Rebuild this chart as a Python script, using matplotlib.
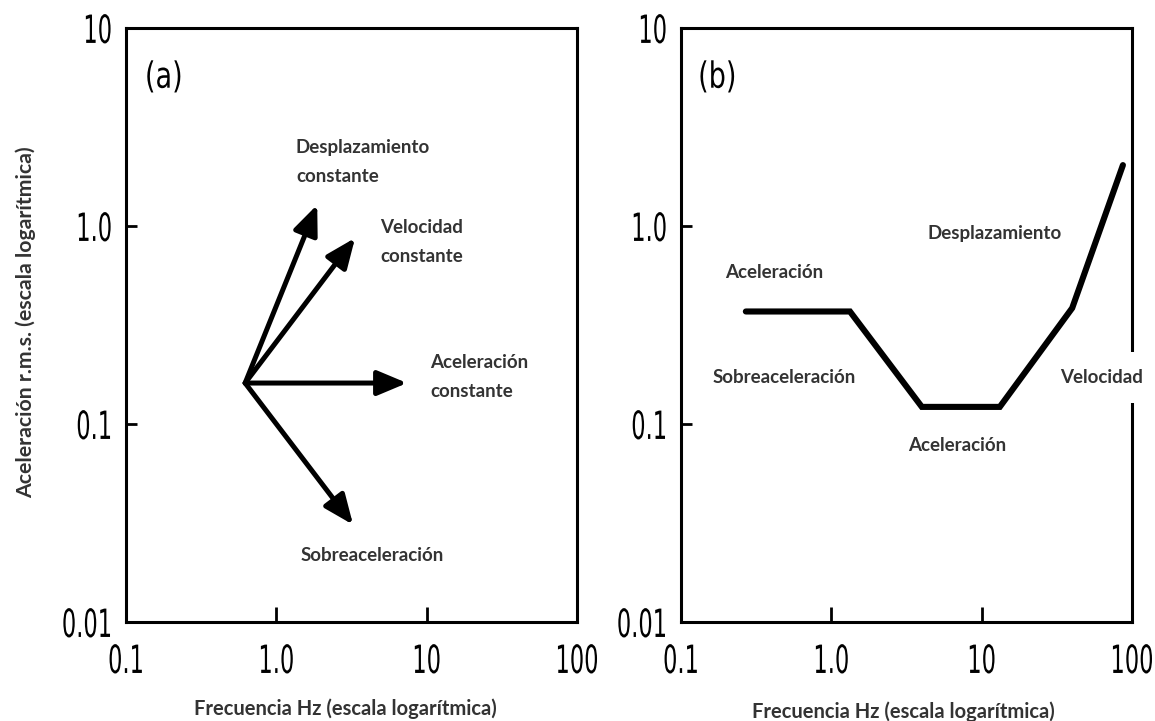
import matplotlib
matplotlib.use('Agg')
import matplotlib.pyplot as plt
from matplotlib import font_manager, patheffects
from matplotlib.transforms import Affine2D
from matplotlib.ticker import FixedLocator, NullLocator

# ejes logaritmicos comunes a los dos paneles
x_ticks = [0.1, 1.0, 10, 100]
x_ticklabels = ['0.1', '1.0', '10', '100']
y_ticks = [0.01, 0.1, 1.0, 10]
y_ticklabels = ['0.01', '0.1', '1.0', '10']

# (a) vectores desde un mismo origen
origin_a = (0.62, 0.161)
arrow_tips = [(1.87, 1.28), (3.34, 0.87), (7.4, 0.161), (3.24, 0.031)]
arrow_names = ['Desplazamiento\nconstante', 'Velocidad\nconstante',
               'Aceleración\nconstante', 'Sobreaceleración']

# (b) curva por tramos
freq_b = [0.27, 1.33, 4.0, 13.2, 40.0, 87.0]
acc_b = [0.37, 0.37, 0.122, 0.122, 0.385, 2.03]
segment_names = ['Aceleración', 'Sobreaceleración', 'Aceleración', 'Velocidad', 'Desplazamiento']


class Stretch(patheffects.AbstractPathEffect):
    """Alarga el texto en vertical manteniendo fija una altura relativa
    del trazo (1 = arriba, 0.5 = centro): da aspecto de fuente condensada."""

    def __init__(self, sy=1.7, anchor=0.5):
        super().__init__()
        self.sy = sy
        self.anchor = anchor

    def draw_path(self, renderer, gc, tpath, affine, rgbFace=None):
        ext = tpath.get_extents()
        y_fix = ext.y0 + self.anchor * (ext.y1 - ext.y0)
        aff = Affine2D().translate(0, -y_fix).scale(1, self.sy).translate(0, y_fix) + affine
        renderer.draw_path(gc, tpath, aff, rgbFace)


installed = {f.name for f in font_manager.fontManager.ttflist}
text_font = 'Lato' if 'Lato' in installed else 'DejaVu Sans'
text_color = '#333333'
squeeze = 0.58

fig = plt.figure(figsize=(11.55, 7.21), dpi=100)
fig.patch.set_facecolor('white')
ax_a = fig.add_axes([0.1091, 0.1373, 0.3905, 0.8239])
ax_b = fig.add_axes([0.5896, 0.1373, 0.3905, 0.8239])

for ax in (ax_a, ax_b):
    ax.set_xscale('log')
    ax.set_yscale('log')
    ax.set_xlim(0.1, 100)
    ax.set_ylim(0.01, 10)
    ax.xaxis.set_major_locator(FixedLocator(x_ticks))
    ax.yaxis.set_major_locator(FixedLocator(y_ticks))
    ax.xaxis.set_minor_locator(NullLocator())
    ax.yaxis.set_minor_locator(NullLocator())
    ax.set_xticklabels(x_ticklabels, fontfamily='DejaVu Sans', fontsize=28 * squeeze)
    ax.set_yticklabels(y_ticklabels, fontfamily='DejaVu Sans', fontsize=28 * squeeze)
    for lab in ax.get_xticklabels():
        lab.set_path_effects([Stretch(1 / squeeze, 1.0)])
    for lab in ax.get_yticklabels():
        lab.set_path_effects([Stretch(1 / squeeze, 0.5)])
    ax.tick_params(axis='x', direction='in', length=11, width=2, pad=15)
    ax.tick_params(axis='y', direction='in', length=8, width=2, pad=10)
    for sp in ax.spines.values():
        sp.set_linewidth(2.2)
    ax.set_xlabel('Frecuencia Hz (escala logarítmica)', fontfamily=text_font,
                  fontweight='bold', fontsize=14.5, color=text_color)

ax_a.xaxis.set_label_coords(0.486, -0.128)
ax_b.xaxis.set_label_coords(0.492, -0.134)
ax_a.set_ylabel('Aceleración r.m.s. (escala logarítmica)', fontfamily=text_font,
                fontweight='bold', fontsize=15.3, color=text_color)
ax_a.yaxis.set_label_coords(-0.199, 0.505)

for ax, tag, tx in ((ax_a, '(a)', 0.042), (ax_b, '(b)', 0.038)):
    t = ax.text(tx, 0.916, tag, transform=ax.transAxes, fontfamily='DejaVu Sans',
                fontsize=26 * 0.75, va='center', ha='left')
    t.set_path_effects([Stretch(1 / 0.75, 0.5)])

# flechas del panel (a)
for tip in arrow_tips:
    ax_a.annotate('', xy=tip, xytext=origin_a,
                  arrowprops=dict(arrowstyle='-|>,head_length=1.0,head_width=0.42',
                                  mutation_scale=18, lw=3.6, color='black',
                                  shrinkA=0, shrinkB=0))

label_pos_a = [(1.35, 2.1), (4.9, 0.83), (10.5, 0.172), (1.44, 0.0216)]
for name, (lx, ly) in zip(arrow_names, label_pos_a):
    ax_a.text(lx, ly, name, fontfamily=text_font, fontweight='bold', fontsize=13.5,
              color=text_color, ha='left', va='center', linespacing=1.85)

# curva del panel (b)
ax_b.plot(freq_b, acc_b, color='black', lw=4.4, solid_joinstyle='miter',
          solid_capstyle='round')

label_pos_b = [(0.196, 0.58), (0.161, 0.171), (3.24, 0.078), (33.3, 0.172), (4.33, 0.92)]
for name, (lx, ly) in zip(segment_names, label_pos_b):
    t = ax_b.text(lx, ly, name, fontfamily=text_font, fontweight='bold', fontsize=13.5,
                  color=text_color, ha='left', va='center', clip_on=False)
    if name == 'Velocidad':
        t.set_bbox(dict(facecolor='white', edgecolor='none', pad=12))
        t.set_zorder(5)

fig.savefig('out.png', dpi=100, facecolor='white')
